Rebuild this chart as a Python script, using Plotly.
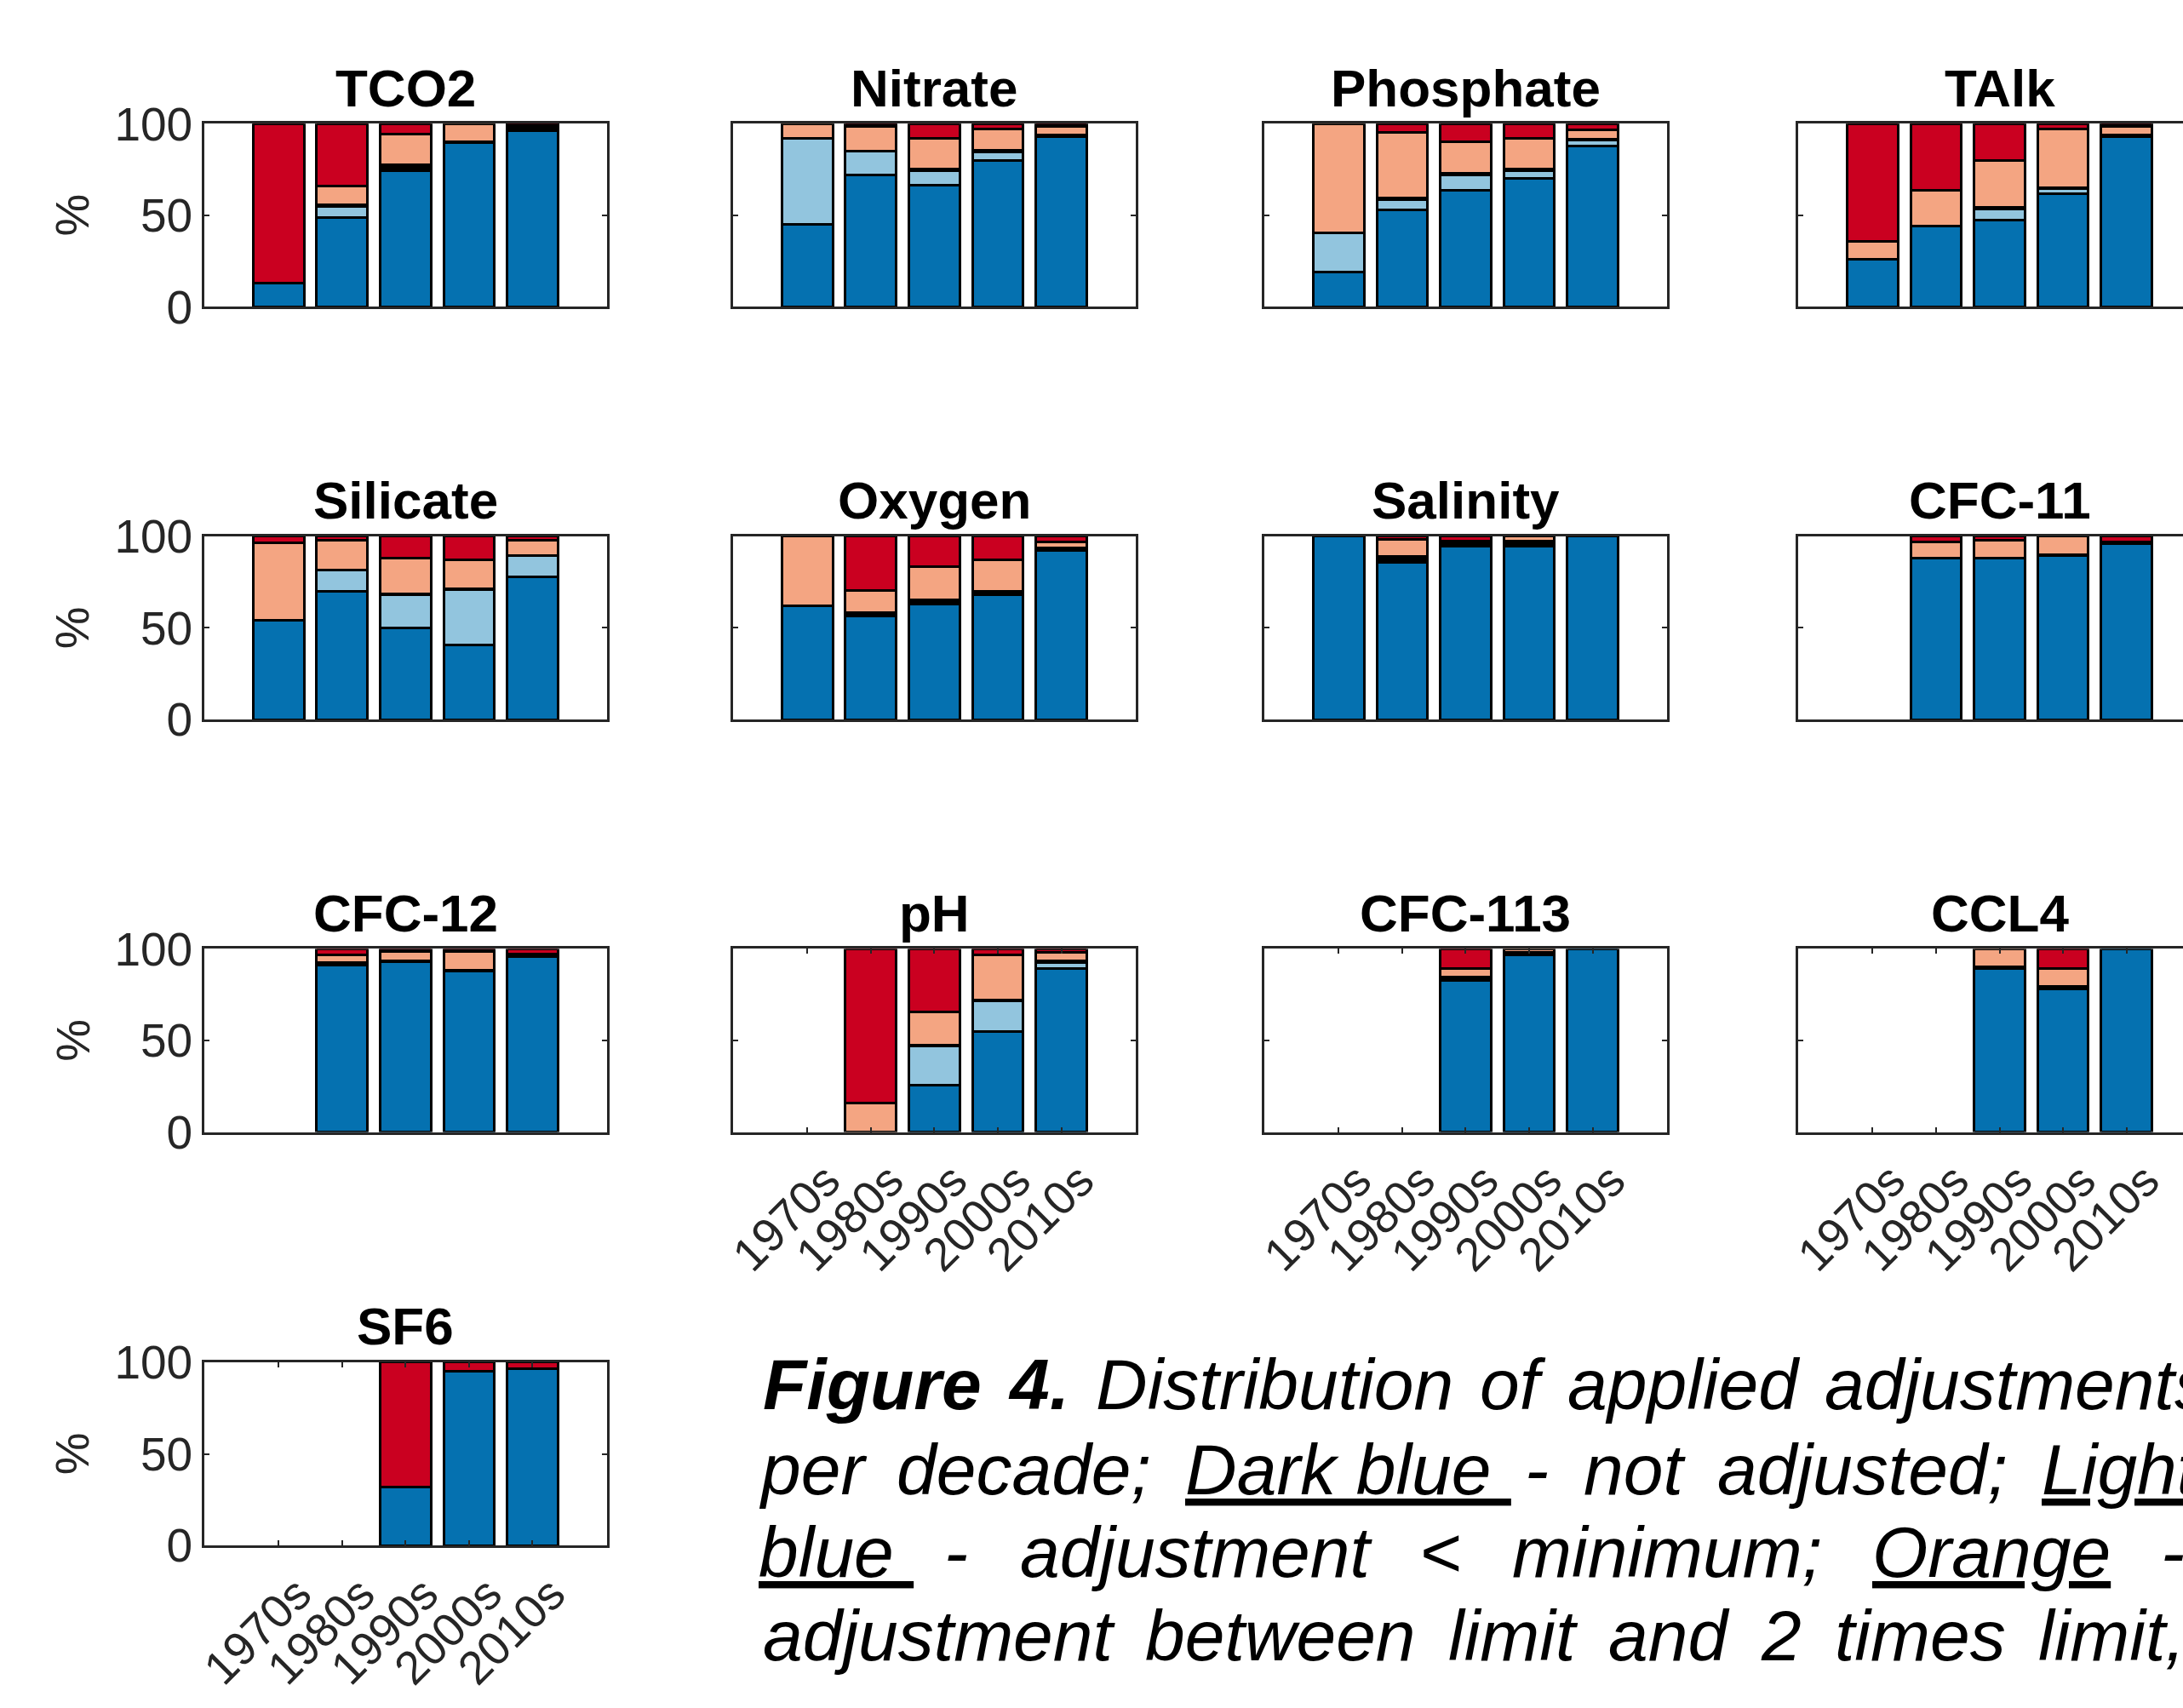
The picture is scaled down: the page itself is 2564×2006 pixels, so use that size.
import plotly.graph_objects as go

# ---------------- data ----------------
decades = ["1970s", "1980s", "1990s", "2000s", "2010s"]
variables = ["TCO2", "Nitrate", "Phosphate", "TAlk",
             "Silicate", "Oxygen", "Salinity", "CFC-11",
             "CFC-12", "pH", "CFC-113", "CCL4",
             "SF6"]

# % of data per decade in each adjustment class (None = no data that decade)
not_adjusted = {
    "TCO2":      [13, 49, 74.5, 89.5, 96],
    "Nitrate":   [45, 72, 66.5, 80, 93],
    "Phosphate": [19, 53, 63.5, 70, 88],
    "TAlk":      [26, 44, 47.5, 62, 93],
    "Silicate":  [54, 70, 50, 40.5, 78],
    "Oxygen":    [62, 56.5, 63, 68, 92.5],
    "Salinity":  [100, 86, 94.5, 94.5, 100],
    "CFC-11":    [None, 88, 88, 89.5, 96],
    "CFC-12":    [None, 91, 93, 88, 96],
    "pH":        [None, 0, 25.5, 55, 89.5],
    "CFC-113":   [None, None, 83, 96.5, 100],
    "CCL4":      [None, None, 89.5, 78, 100],
    "SF6":       [None, None, 32, 95, 96.5],
}
below_minimum = {
    "TCO2":      [0, 6, 0, 0, 0],
    "Nitrate":   [47, 13, 8, 4.5, 0],
    "Phosphate": [21.5, 5.5, 8.5, 4.5, 3],
    "TAlk":      [0, 0, 6, 2.5, 0],
    "Silicate":  [0, 11.5, 18, 30.5, 11.5],
    "Oxygen":    [0, 0, 0, 0, 0],
    "Salinity":  [0, 0, 0, 0, 0],
    "CFC-11":    [None, 0, 0, 0, 0],
    "CFC-12":    [None, 0, 0, 0, 0],
    "pH":        [None, 0, 21.5, 16.5, 3],
    "CFC-113":   [None, None, 0, 0, 0],
    "CCL4":      [None, None, 0, 0, 0],
    "SF6":       [None, None, 0, 0, 0],
}
minimum_to_limit = {
    "TCO2":      [0, 1, 3, 0.5, 3.5],
    "Nitrate":   [0, 0, 1, 1, 1],
    "Phosphate": [0, 1, 1, 1, 0.5],
    "TAlk":      [0, 0, 1, 0.5, 1],
    "Silicate":  [0, 0, 0.5, 0.5, 0],
    "Oxygen":    [0, 2, 2.5, 2, 1],
    "Salinity":  [0, 3, 3, 3, 0],
    "CFC-11":    [None, 0, 0, 0.5, 1],
    "CFC-12":    [None, 1.5, 0.5, 0.5, 1],
    "pH":        [None, 0, 0.5, 0.5, 1],
    "CFC-113":   [None, None, 1.5, 1.5, 0],
    "CCL4":      [None, None, 0.5, 1.5, 0],
    "SF6":       [None, None, 0, 0, 0],
}
limit_to_2limit = {
    "TCO2":      [0, 10, 17, 10, 0],
    "Nitrate":   [8, 13.5, 16.5, 11.5, 4.5],
    "Phosphate": [59.5, 36, 17, 16.5, 5],
    "TAlk":      [10, 19.5, 25.5, 32, 4.5],
    "Silicate":  [42.5, 16.5, 19.5, 15.5, 8.5],
    "Oxygen":    [38, 12, 18, 17, 3.5],
    "Salinity":  [0, 9.5, 0, 2.5, 0],
    "CFC-11":    [None, 9, 10, 10, 0],
    "CFC-12":    [None, 4, 5, 10, 0],
    "pH":        [None, 16, 18, 24.5, 4.5],
    "CFC-113":   [None, None, 5, 2, 0],
    "CCL4":      [None, None, 10, 10, 0],
    "SF6":       [None, None, 0, 0, 0],
}
above_2limit = {
    "TCO2":      [87, 34, 5.5, 0, 0.5],
    "Nitrate":   [0, 1.5, 8, 3, 1.5],
    "Phosphate": [0, 4.5, 10, 8, 3.5],
    "TAlk":      [64, 36.5, 20, 3, 1.5],
    "Silicate":  [3.5, 2, 12, 13, 2],
    "Oxygen":    [0, 29.5, 16.5, 13, 3],
    "Salinity":  [0, 1.5, 2.5, 0, 0],
    "CFC-11":    [None, 3, 2, 0, 3],
    "CFC-12":    [None, 3.5, 1.5, 1.5, 3],
    "pH":        [None, 84, 34.5, 3.5, 2],
    "CFC-113":   [None, None, 10.5, 0, 0],
    "CCL4":      [None, None, 0, 10.5, 0],
    "SF6":       [None, None, 68, 5, 3.5],
}
series_names = ["not adjusted", "adjustment < minimum", "minimum to limit",
                "between limit and 2 times limit", "> 2 times limit"]
series_colors = ["#0571b0", "#92c5de", "#000000", "#f4a582", "#ca0020"]
y_ticks = [0, 50, 100]
xlabel_panels = ["pH", "CFC-113", "CCL4", "SF6"]

caption_lines = [
    [("Figure", "b"), ("4.", "b"), ("Distribution", ""), ("of", ""),
     ("applied", ""), ("adjustments", "")],
    [("per", ""), ("decade;", ""), ("Dark\u00a0blue\u00a0", "u"), ("-", ""),
     ("not", ""), ("adjusted;", ""), ("Light", "u")],
    [("blue\u00a0", "u"), ("-", ""), ("adjustment", ""), ("<", ""),
     ("minimum;", ""), ("Orange", "u"), ("-", "")],
    [("adjustment", ""), ("between", ""), ("limit", ""), ("and", ""),
     ("2", ""), ("times", ""), ("limit,", "")],
]

# ---------------- layout geometry ----------------
W, H = 2564, 2006
col_left = [229, 853, 1480, 2110]
row_top = [118, 618, 1118, 1619]
pw, ph = 475, 222
full_range = [-1.17, 5.17]
FONT = "Liberation Sans, Arial, Helvetica, sans-serif"
AX = "#262626"

fig = go.Figure()
series = [not_adjusted, below_minimum, minimum_to_limit, limit_to_2limit, above_2limit]

annotations = []
for i, var in enumerate(variables):
    r, c = divmod(i, 4)
    k = i + 1
    xa = "x" if k == 1 else f"x{k}"
    ya = "y" if k == 1 else f"y{k}"
    for sname, scol, sdata in zip(series_names, series_colors, series):
        vals = [v if v else None for v in sdata[var]]
        fig.add_trace(go.Bar(
            x=decades, y=vals, name=sname, xaxis=xa, yaxis=ya,
            marker=dict(color=scol, line=dict(color="black", width=3)),
            showlegend=False, hoverinfo="skip"))

    x0 = col_left[c]
    x1 = min(x0 + pw, W)
    y0 = row_top[r]
    vis_units = (x1 - x0) / pw * (full_range[1] - full_range[0])
    xr = [full_range[0], full_range[0] + vis_units]
    has_xl = var in xlabel_panels
    xkey = "xaxis" if k == 1 else f"xaxis{k}"
    ykey = "yaxis" if k == 1 else f"yaxis{k}"
    fig.layout[xkey] = dict(
        domain=[x0 / W, x1 / W], anchor=ya, range=xr, type="category",
        categoryorder="array", categoryarray=decades,
        showline=True, linecolor=AX, linewidth=2.5,
        mirror="ticks" if has_xl else True,
        ticks="inside" if has_xl else "", ticklen=6, tickwidth=2, tickcolor=AX,
        showticklabels=has_xl, tickangle=-45, ticklabelshift=22,
        tickfont=dict(family=FONT, size=55, color=AX),
        showgrid=False, zeroline=False, fixedrange=True)
    fig.layout[ykey] = dict(
        domain=[1 - (y0 + ph) / H, 1 - y0 / H], anchor=xa, range=[0, 100],
        tickvals=y_ticks, showline=True, linecolor=AX, linewidth=2.5,
        mirror="ticks" if c < 3 else False,
        ticks="inside", ticklen=6, tickwidth=2, tickcolor=AX,
        showticklabels=(c == 0),
        tickfont=dict(family=FONT, size=55, color=AX),
        showgrid=False, zeroline=False, fixedrange=True)

    # panel title
    tf = 62
    cx = x0 + pw / 2
    base = y0 - 22
    annotations.append(dict(
        x=cx / W, y=1 - (base - 0.35 * tf) / H, xref="paper", yref="paper",
        text=var, showarrow=False, xanchor="center", yanchor="middle",
        font=dict(family=FONT, size=tf, color="black", weight="bold")))
    if c == 0:
        annotations.append(dict(
            x=73 / W, y=1 - (y0 + ph / 2) / H, xref="paper", yref="paper",
            text="%", textangle=-90, showarrow=False,
            xanchor="center", yanchor="middle",
            font=dict(family=FONT, size=56, color=AX)))

# ---------------- caption (justified, word by word) ----------------
W_REG = {" ": 278, "\u00a0": 278, "a": 556, "b": 556, "c": 500, "d": 556,
         "e": 556, "f": 278, "g": 556, "h": 556, "i": 222, "j": 222, "k": 500,
         "l": 222, "m": 833, "n": 556, "o": 556, "p": 556, "r": 333, "s": 500,
         "t": 278, "u": 556, "w": 722, "D": 722, "L": 556, "O": 778, "-": 333,
         ";": 278, ",": 278, ".": 278, "<": 584, "2": 556, "4": 556}
W_BOLD = {"F": 611, "i": 278, "g": 611, "u": 611, "r": 389, "e": 556,
          "4": 556, ".": 278, " ": 278}


def tw(s, size, bold=False):
    tab = W_BOLD if bold else W_REG
    return sum(tab.get(ch, 556) for ch in s) * size / 1000.0


CF = 84
cap_left = [887, 882, 882, 887]
cap_base = [1675, 1778, 1879, 1980]
cap_right = [2593, 2578, 2565, 2565]
for li, line in enumerate(caption_lines):
    widths = [tw(t, CF, st == "b") for t, st in line]
    gaps = [0 if t.endswith("\u00a0") else tw(" ", CF, st == "b") for t, st in line[:-1]]
    natural = sum(widths) + sum(gaps)
    extra = max(0.0, (cap_right[li] - cap_left[li] - natural) / max(len(gaps), 1))
    x = cap_left[li]
    for j, (t, st) in enumerate(line):
        txt = t.replace("<", "&lt;")
        if st == "u":
            txt = f"<u>{txt}</u>"
        annotations.append(dict(
            x=x / W, y=1 - (cap_base[li] - 0.35 * CF) / H, xref="paper", yref="paper",
            text=txt, showarrow=False, xanchor="left", yanchor="middle",
            borderpad=0,
            font=dict(family=FONT, size=CF, color="black", style="italic",
                      weight="bold" if st == "b" else "normal")))
        if j < len(gaps):
            x += widths[j] + gaps[j] + extra

fig.update_layout(
    width=W, height=H, margin=dict(l=0, r=0, t=0, b=0, pad=0),
    barmode="stack", bargap=0.2,
    paper_bgcolor="white", plot_bgcolor="white",
    annotations=annotations, showlegend=False,
    font=dict(family=FONT, color=AX))

fig.write_html("out.html", config={"displayModeBar": False},
               post_script="document.body.style.margin='0';document.body.style.overflow='hidden';")
